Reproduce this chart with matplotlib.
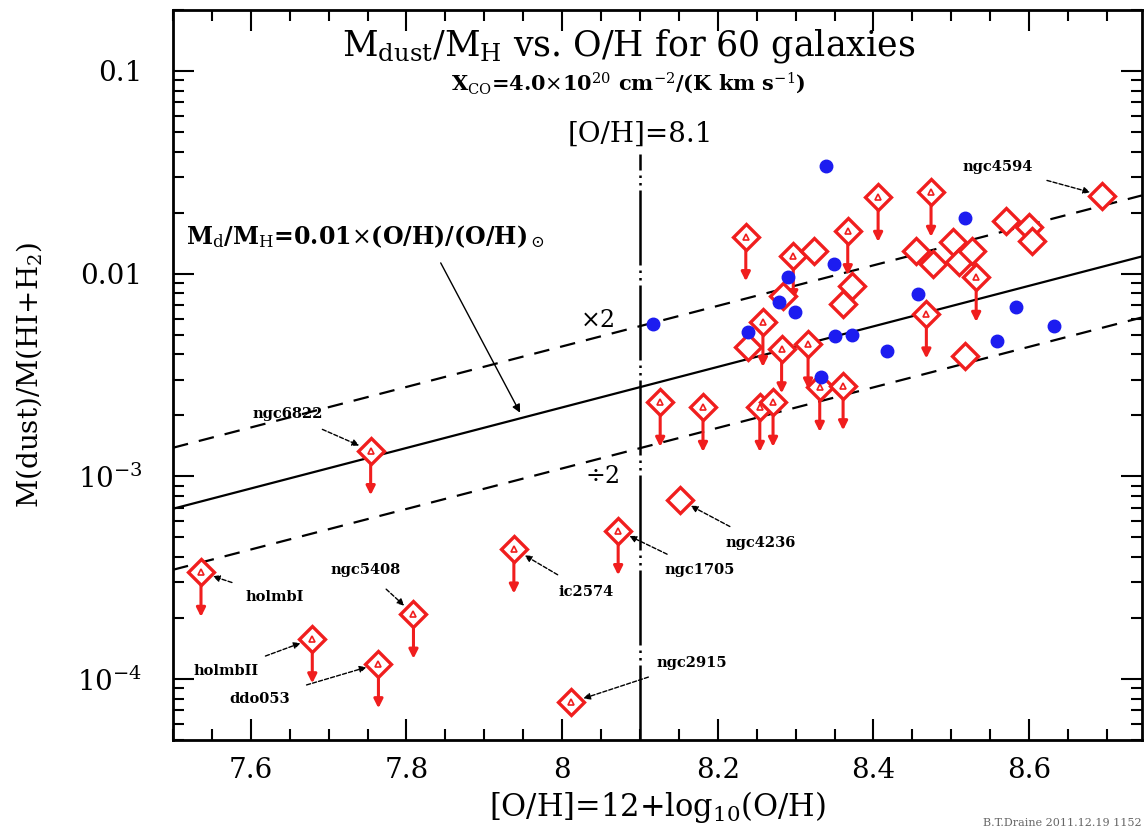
import matplotlib
matplotlib.use('Agg')
import matplotlib.pyplot as plt
import numpy as np
from matplotlib.ticker import FixedLocator, FixedFormatter, LogLocator, MultipleLocator, NullFormatter

plt.rcParams['font.family'] = ['DejaVu Serif']
plt.rcParams['mathtext.fontset'] = 'dejavuserif'

# galaxies with CO data (blue filled circles)
blue_oh = [8.339, 8.517, 8.349, 8.290, 8.279, 8.299, 8.117, 8.239, 8.350, 8.373,
           8.418, 8.333, 8.457, 8.583, 8.632, 8.559]
blue_ratio = [0.0341, 0.0188, 0.0112, 0.0096, 0.00722, 0.00644, 0.00565, 0.00513, 0.00494, 0.00500,
              0.00417, 0.00308, 0.00794, 0.00682, 0.00553, 0.00467]

# red diamonds, upper limits (with down arrows)
lim_oh = [8.236, 8.406, 8.474, 8.367, 8.297, 8.258, 8.282, 8.316, 8.468, 8.331,
          8.361, 8.126, 8.181, 8.254, 8.271, 8.532,
          7.754, 8.072, 7.938, 7.536, 7.809, 7.679, 7.764, 8.012]
lim_ratio = [0.01523, 0.0238, 0.0252, 0.0163, 0.01227, 0.00575, 0.00426, 0.00450, 0.00633, 0.00275,
             0.00280, 0.00232, 0.00219, 0.00219, 0.00232, 0.00959,
             1.34e-3, 5.40e-4, 4.38e-4, 3.36e-4, 2.09e-4, 1.58e-4, 1.19e-4, 7.67e-5]

# red diamonds without arrows
red_oh = [8.324, 8.517, 8.455, 8.476, 8.502, 8.510, 8.527, 8.570, 8.600, 8.604,
          8.373, 8.361, 8.284, 8.239, 8.694, 8.151]
red_ratio = [0.01297, 0.00394, 0.01297, 0.01116, 0.01426, 0.01137, 0.01297, 0.01824, 0.0169, 0.01456,
             0.00873, 0.0071, 0.00778, 0.00433, 0.02427, 7.65e-4]

# labelled galaxies: name, point, text position
names = ['ngc6822', 'holmbI', 'holmbII', 'ngc5408', 'ddo053', 'ic2574', 'ngc1705', 'ngc4236', 'ngc2915', 'ngc4594']
name_pt = [(7.754, 1.34e-3), (7.536, 3.36e-4), (7.679, 1.58e-4), (7.809, 2.09e-4), (7.764, 1.19e-4),
           (7.938, 4.38e-4), (8.072, 5.40e-4), (8.151, 7.65e-4), (8.012, 7.67e-5), (8.694, 0.02427)]
name_txt = [(7.647, 2.03e-3), (7.631, 2.55e-4), (7.568, 1.10e-4), (7.747, 3.45e-4), (7.612, 8.0e-5),
            (8.031, 2.70e-4), (8.177, 3.45e-4), (8.255, 4.70e-4), (8.166, 1.20e-4), (8.560, 0.0336)]

oh_sun = 8.66
oh_line = 8.1
x_range = [7.5, 8.745]
y_range = [5e-5, 0.2]

fig = plt.figure(figsize=(11.47, 8.30), dpi=100)
ax = fig.add_axes([0.1508, 0.1084, 0.8448, 0.8796])
ax.set_yscale('log')
ax.set_xlim(x_range)
ax.set_ylim(y_range)

# model lines
xx = np.array(x_range)
yy = 0.01 * 10 ** (xx - oh_sun)
ax.plot(xx, yy, color='black', lw=1.6, zorder=2)
ax.plot(xx, 2 * yy, color='black', lw=1.6, ls=(0, (7, 5)), zorder=2)
ax.plot(xx, yy / 2, color='black', lw=1.6, ls=(0, (7, 5)), zorder=2)

ax.plot([oh_line, oh_line], [5e-5, 0.039], color='black', lw=1.8,
        ls=(0, (30, 2, 1, 2, 1, 2)), zorder=2)
ax.text(oh_line, 0.049, '[O/H]=8.1', ha='center', va='center', fontsize=20)

red = '#f01e1e'
blue = '#1c1cf0'

ax.plot(blue_oh, blue_ratio, 'o', color=blue, ms=9, mec=blue, zorder=4)

arrow_f = 10 ** -0.22
for x, y in zip(lim_oh, lim_ratio):
    ax.annotate('', xy=(x, y * arrow_f), xytext=(x, y),
                arrowprops=dict(arrowstyle='-|>', color=red, lw=2.2, mutation_scale=13,
                                shrinkA=0, shrinkB=0), zorder=3)
ax.plot(lim_oh, lim_ratio, 'D', ms=13.5, mfc='white', mec=red, mew=2.4, zorder=3)
ax.plot(lim_oh, lim_ratio, '^', ms=5, mfc='none', mec=red, mew=1.2, zorder=3)
ax.plot(red_oh, red_ratio, 'D', ms=13.5, mfc='white', mec=red, mew=2.4, zorder=3)

for n, p, t in zip(names, name_pt, name_txt):
    ax.annotate(n, xy=p, xytext=t, fontsize=10.5, fontweight='bold', ha='center', va='center',
                arrowprops=dict(arrowstyle='-|>', color='black', lw=1.0, ls=(0, (3, 1.5)),
                                mutation_scale=10, shrinkA=10, shrinkB=9), zorder=5)

ax.text(7.517, 0.0152, r'M$_{\rm d}$/M$_{\rm H}$=0.01$\times$(O/H)/(O/H)$_\odot$',
        fontsize=17, fontweight='bold', ha='left', va='center')
ax.annotate('', xy=(7.946, 2.06e-3), xytext=(7.844, 0.0113),
            arrowprops=dict(arrowstyle='-|>', color='black', lw=1.0, mutation_scale=12,
                            shrinkA=0, shrinkB=0))
ax.text(8.045, 0.0059, r'$\times$2', fontsize=17, ha='center', va='center')
ax.text(8.052, 1.0e-3, r'$\div$2', fontsize=17, ha='center', va='center')

ax.text(0.47, 0.95, r'M$_{\rm dust}$/M$_{\rm H}$ vs. O/H for 60 galaxies', transform=ax.transAxes,
        ha='center', va='center', fontsize=25)
ax.text(0.47, 0.9, r'X$_{\rm CO}$=4.0$\times$10$^{20}$ cm$^{-2}$/(K km s$^{-1}$)', transform=ax.transAxes,
        ha='center', va='center', fontsize=15, fontweight='bold')

# ticks
ax.xaxis.set_major_locator(FixedLocator([7.6, 7.8, 8.0, 8.2, 8.4, 8.6]))
ax.xaxis.set_major_formatter(FixedFormatter(['7.6', '7.8', '8', '8.2', '8.4', '8.6']))
ax.xaxis.set_minor_locator(MultipleLocator(0.05))
ax.yaxis.set_major_locator(FixedLocator([1e-4, 1e-3, 1e-2, 1e-1]))
ax.yaxis.set_major_formatter(FixedFormatter([r'10$^{-4}$', r'10$^{-3}$', '0.01', '0.1']))
ax.yaxis.set_minor_locator(LogLocator(base=10, subs=np.arange(2, 10)))
ax.yaxis.set_minor_formatter(NullFormatter())
ax.tick_params(which='both', direction='in', top=True, right=True, width=1.5, labelsize=20)
ax.tick_params(which='major', length=15)
ax.tick_params(which='minor', length=8)
ax.tick_params(axis='x', which='major', pad=12)
ax.tick_params(axis='y', which='major', pad=22)
for s in ax.spines.values():
    s.set_linewidth(2)

ax.set_xlabel(r'[O/H]=12+log$_{10}$(O/H)', fontsize=22, labelpad=4)
ax.set_ylabel(r'M(dust)/M(HI+H$_2$)', fontsize=20, labelpad=24)

fig.text(0.995, 0.003, 'B.T.Draine 2011.12.19 1152', fontsize=8, color='#666666',
         ha='right', va='bottom')

fig.savefig('out.png', dpi=100)
